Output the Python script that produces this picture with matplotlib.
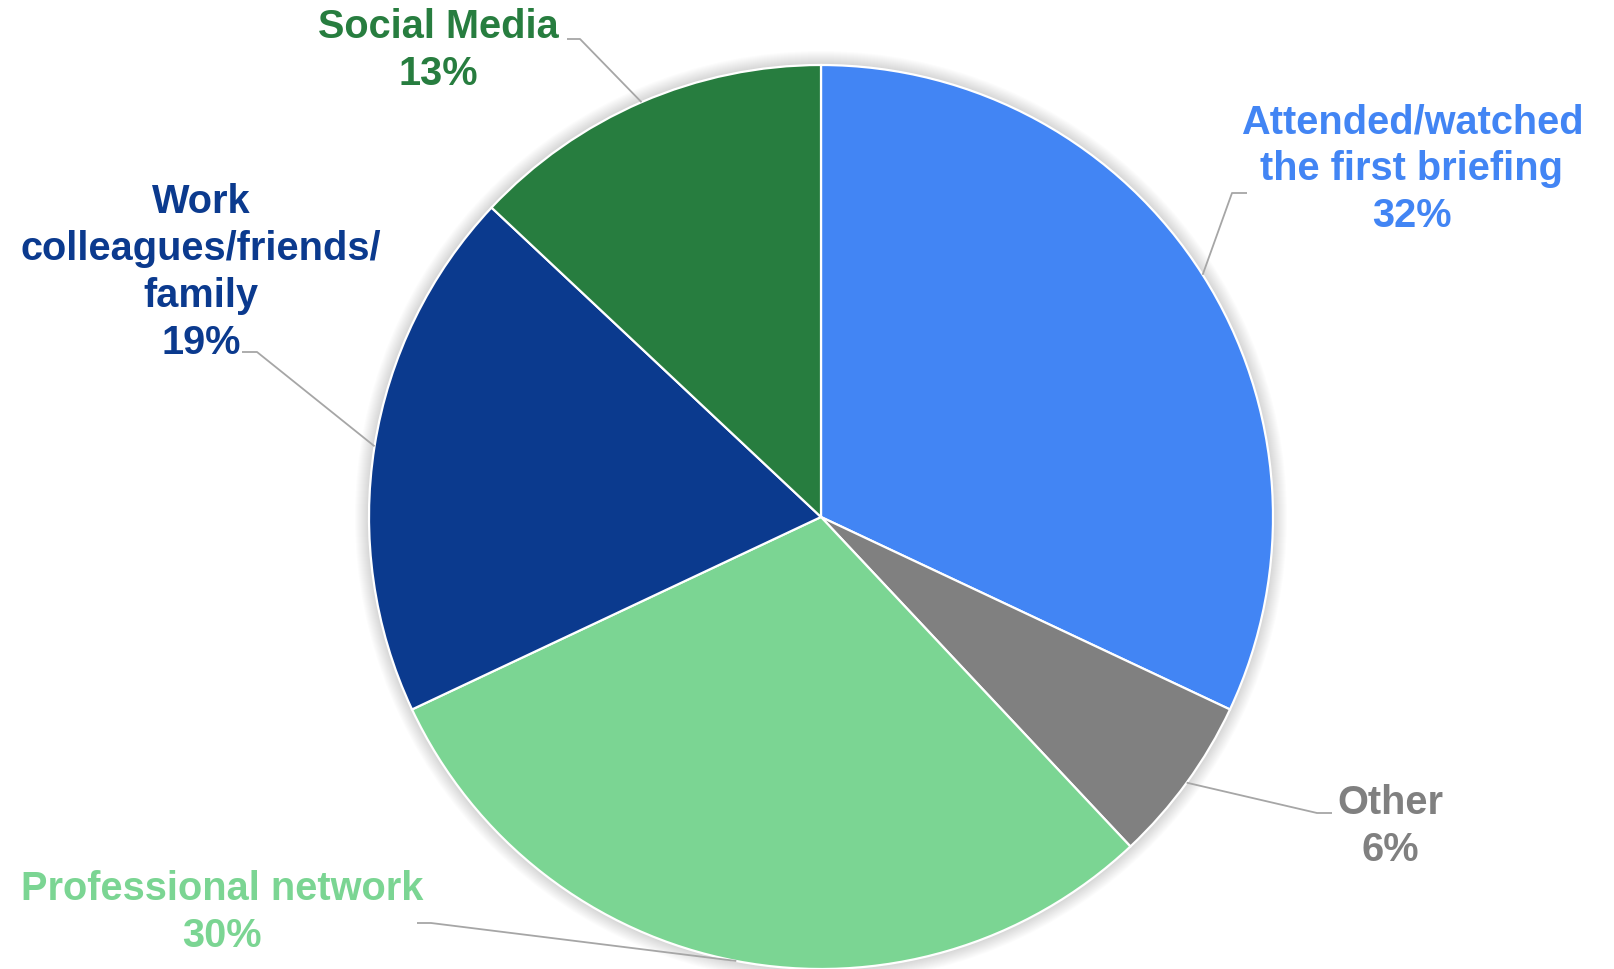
import numpy as np
import matplotlib
matplotlib.use("Agg")
import matplotlib.pyplot as plt
from matplotlib.patches import Circle

# ---- data ----
categories = ["Attended/watched\nthe first briefing", "Other", "Professional network",
              "Work\ncolleagues/friends/\nfamily", "Social Media"]
values = [32, 6, 30, 19, 13]
colors = ["#4285F4", "#808080", "#7BD593", "#0B3A8E", "#277D3F"]

# ---- layout (pixel coords, y from top) ----
W, H = 1615, 969
cx, cy, R = 821, 517, 452
text_pos = [(1412, 133), (1390, 814), (222, 900), (201, 213), (438, 38)]  # center x, first baseline
line_gap = 47
elbows = [((1232, 193), (1247, 193)),
          ((1317, 813), (1332, 813)),
          ((431, 923), (417, 923)),
          ((257, 352), (242, 352)),
          ((580, 39), (567, 39))]

def Y(y):
    return H - y

fig = plt.figure(figsize=(W / 100, H / 100), dpi=100)
ax = fig.add_axes([0, 0, 1, 1])
ax.set_xlim(0, W)
ax.set_ylim(0, H)
ax.set_aspect("equal")
ax.axis("off")

# soft shadow
for k in range(14):
    ax.add_patch(Circle((cx, Y(cy)), R + 1 + k, facecolor="black", alpha=0.011,
                        edgecolor="none", zorder=0))

wedges, _ = ax.pie(values, colors=colors, startangle=90, counterclock=False,
                   radius=R, center=(cx, Y(cy)),
                   wedgeprops=dict(edgecolor="white", linewidth=1.6), frame=True)
for w in wedges:
    w.set_zorder(2)
ax.set_xlim(0, W)
ax.set_ylim(0, H)
ax.axis("off")

font = "Liberation Sans"
for w, cat, v, col, (tx, ty), (elb, end) in zip(wedges, categories, values, colors,
                                                 text_pos, elbows):
    theta = np.deg2rad((w.theta1 + w.theta2) / 2)
    ax_pt = (cx + R * np.cos(theta), Y(cy) + R * np.sin(theta))
    ax.plot([ax_pt[0], elb[0], end[0]], [ax_pt[1], Y(elb[1]), Y(end[1])],
            color="#A6A6A6", lw=1.3, zorder=3, solid_capstyle="butt")
    lines = cat.split("\n") + [f"{v}%"]
    for i, ln in enumerate(lines):
        ax.text(tx, Y(ty + i * line_gap), ln, ha="center", va="baseline",
                fontsize=28.6, fontweight="bold", color=col, family=font, zorder=4)

fig.savefig("out.png", dpi=100, facecolor="white")
